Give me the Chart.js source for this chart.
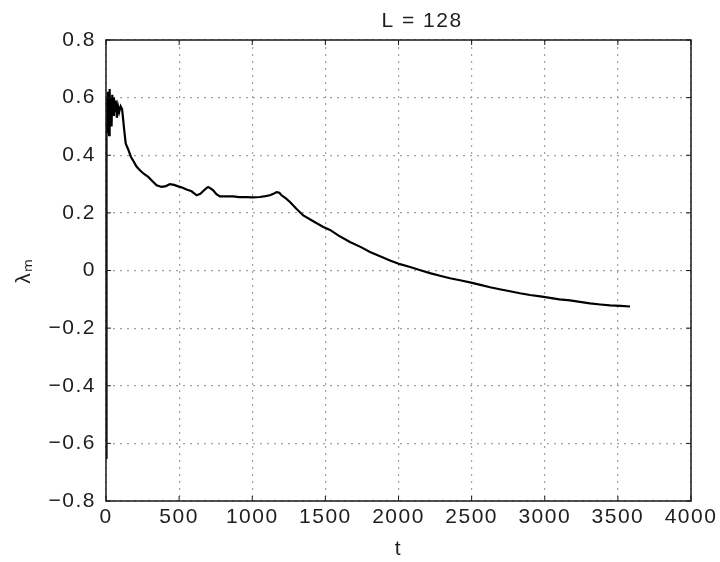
<!DOCTYPE html>
<html>
<head>
<meta charset="utf-8">
<script src="https://cdn.jsdelivr.net/npm/chart.js@4/dist/chart.umd.min.js"></script>
<style>
  html, body { margin: 0; padding: 0; background: #fff; }
  #wrap { width: 720px; height: 562px; }
</style>
</head>
<body>
<div id="wrap"><canvas id="c" width="720" height="562"></canvas></div>
<script>
const chartTitle = "L = 128";
const xTitle = "t";
const yTitle = "λₘ";
const xTicks = [0, 500, 1000, 1500, 2000, 2500, 3000, 3500, 4000];
const yTicks = [-0.8, -0.6, -0.4, -0.2, 0, 0.2, 0.4, 0.6, 0.8];

const tValues = [0,2,5,8,11,14,17,21,25,29,
  33,38,43,48,54,60,67,74,82,90,
  100,110,118,126,135,152,170,187,210,232,
  260,289,318,346,380,410,437,465,494,520,
  551,585,620,645,665,685,699,715,733,755,
  779,820,870,910,961,1000,1053,1090,1121,1145,
  1166,1185,1200,1230,1258,1300,1349,1420,1486,1532,
  1588,1668,1740,1805,1870,1942,2010,2079,2150,2215,
  2290,2352,2420,2489,2560,2626,2700,2762,2830,2899,
  2970,3036,3100,3173,3240,3309,3380,3446,3520,3583];
const lambdaValues = [-0.65,0.42,0.6,0.48,0.62,0.5,0.58,0.47,0.63,0.52,
  0.6,0.5,0.61,0.54,0.6,0.55,0.59,0.53,0.57,0.55,
  0.57,0.56,0.52,0.48,0.44,0.42,0.395,0.38,0.36,0.348,
  0.335,0.325,0.31,0.296,0.29,0.293,0.30,0.297,0.292,0.288,
  0.281,0.275,0.261,0.266,0.276,0.285,0.29,0.285,0.278,0.265,
  0.257,0.257,0.257,0.255,0.255,0.254,0.255,0.258,0.261,0.266,
  0.272,0.27,0.261,0.25,0.238,0.215,0.191,0.17,0.151,0.141,
  0.122,0.099,0.082,0.064,0.05,0.035,0.022,0.012,0.001,-0.009,
  -0.019,-0.027,-0.034,-0.041,-0.05,-0.058,-0.066,-0.072,-0.079,-0.085,
  -0.09,-0.095,-0.1,-0.104,-0.109,-0.114,-0.118,-0.121,-0.123,-0.125];

const FONT = "'Liberation Sans', Arial, sans-serif";
const TEXT = '#1e1e1e';

function fmtY(v) {
  if (Math.abs(v) < 1e-9) return '0';
  return v.toFixed(1).replace('-', '\u2212');
}

const framePlugin = {
  id: 'frame',
  beforeDraw(chart) {
    chart.ctx.letterSpacing = '1.5px';
  },
  afterDatasetsDraw(chart) {
    const { ctx, chartArea: a, scales } = chart;
    ctx.save();
    ctx.strokeStyle = '#1a1a1a';
    ctx.lineWidth = 1.5;
    ctx.strokeRect(a.left, a.top, a.right - a.left, a.bottom - a.top);
    ctx.lineWidth = 1;
    ctx.beginPath();
    xTicks.forEach(v => {
      const x = scales.x.getPixelForValue(v);
      ctx.moveTo(x, a.top); ctx.lineTo(x, a.top + 5);
      ctx.moveTo(x, a.bottom); ctx.lineTo(x, a.bottom - 5);
    });
    yTicks.forEach(v => {
      const y = scales.y.getPixelForValue(v);
      ctx.moveTo(a.left, y); ctx.lineTo(a.left + 5, y);
      ctx.moveTo(a.right, y); ctx.lineTo(a.right - 5, y);
    });
    ctx.stroke();
    ctx.fillStyle = TEXT;
    ctx.font = '21px ' + FONT;
    ctx.letterSpacing = '1.5px';
    ctx.textAlign = 'center';
    ctx.textBaseline = 'middle';
    ctx.fillText(chartTitle, 422, 21);
    ctx.restore();
  }
};

new Chart(document.getElementById('c'), {
  type: 'line',
  data: {
    datasets: [{
      data: tValues.map((t, i) => ({ x: t, y: lambdaValues[i] })),
      borderColor: '#000',
      borderWidth: 2.2,
      pointRadius: 0,
      tension: 0,
      fill: false
    }]
  },
  options: {
    responsive: false,
    animation: false,
    events: [],
    layout: { padding: { left: 0, right: 29, top: 40, bottom: 0 } },
    plugins: { legend: { display: false }, tooltip: { enabled: false }, title: { display: false } },
    scales: {
      x: {
        type: 'linear',
        min: 0, max: 4000,
        afterBuildTicks: s => { s.ticks = xTicks.map(v => ({ value: v })); },
        afterFit: s => { s.height = 61; },
        ticks: { color: TEXT, font: { family: FONT, size: 21 }, padding: 4, maxRotation: 0, autoSkip: false, callback: v => String(v) },
        grid: { color: '#a0a0a0', lineWidth: 1.2, drawTicks: false, tickLength: 0 },
        border: { display: false, dash: [2, 5] },
        title: { display: true, text: xTitle, color: TEXT, font: { family: FONT, size: 21 }, padding: { top: 0, bottom: 0 } }
      },
      y: {
        type: 'linear',
        min: -0.8, max: 0.8,
        afterBuildTicks: s => { s.ticks = yTicks.map(v => ({ value: v })); },
        afterFit: s => { s.width = 106; },
        ticks: { color: TEXT, font: { family: FONT, size: 21 }, padding: 10, callback: v => fmtY(v), autoSkip: false },
        grid: { color: '#a0a0a0', lineWidth: 1.2, drawTicks: false, tickLength: 0 },
        border: { display: false, dash: [2, 5] },
        title: { display: true, text: yTitle, color: TEXT, font: { family: FONT, size: 21 }, padding: { top: 12, bottom: 0 } }
      }
    }
  },
  plugins: [framePlugin]
});
</script>
</body>
</html>
